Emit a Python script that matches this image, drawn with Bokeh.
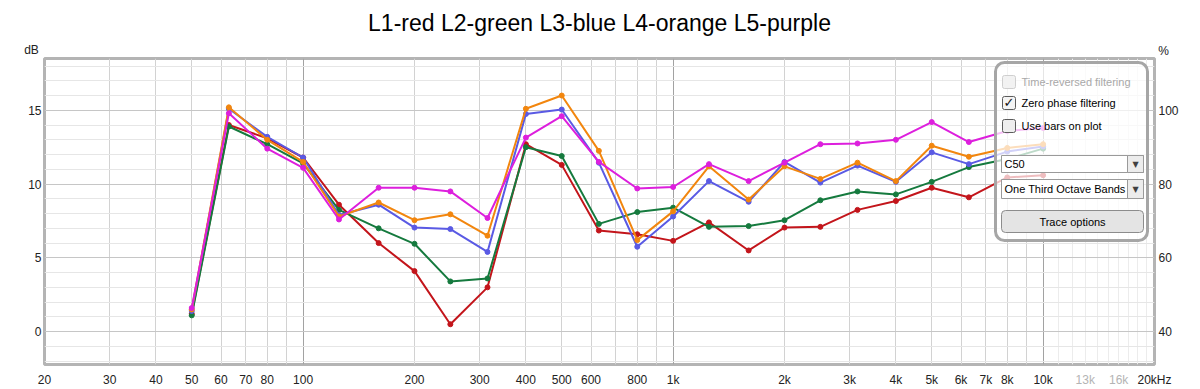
from bokeh.plotting import figure
from bokeh.models import (FixedTicker, Range1d, LinearAxis, LogAxis, Grid, Label, Title,
                          BoxAnnotation, ColumnDataSource)
from bokeh.embed import file_html
from bokeh.resources import INLINE

# ---------------- data ----------------
freqs = [50, 63, 80, 100, 125, 160, 200, 250, 315, 400, 500, 630, 800, 1000,
         1250, 1600, 2000, 2500, 3150, 4000, 5000, 6300, 8000, 10000]
L1_red = [1.2, 14.0, 13.1, 11.8, 8.6, 6.0, 4.1, 0.5, 3.0, 12.7, 11.3, 6.85, 6.6, 6.15,
          7.4, 5.5, 7.05, 7.1, 8.25, 8.85, 9.75, 9.1, 10.45, 10.6]
L2_green = [1.1, 13.9, 12.7, 11.4, 8.25, 7.0, 5.95, 3.4, 3.6, 12.5, 11.9, 7.3, 8.1, 8.4,
            7.1, 7.15, 7.55, 8.9, 9.5, 9.3, 10.15, 11.15, 11.7, 12.4]
L3_blue = [1.4, 15.1, 13.2, 11.8, 7.9, 8.6, 7.05, 6.95, 5.4, 14.75, 15.05, 11.45, 5.75, 7.8,
           10.2, 8.8, 11.5, 10.1, 11.25, 10.15, 12.15, 11.35, 12.2, 12.55]
L4_orange = [1.5, 15.2, 13.0, 11.5, 7.8, 8.75, 7.55, 7.95, 6.5, 15.1, 16.0, 12.25, 6.2, 8.15,
             11.2, 8.95, 11.2, 10.35, 11.45, 10.2, 12.6, 11.85, 12.45, 12.7]
L5_purple = [1.6, 14.8, 12.4, 11.1, 7.6, 9.75, 9.75, 9.5, 7.7, 13.15, 14.6, 11.5, 9.7, 9.8,
             11.35, 10.2, 11.45, 12.7, 12.75, 13.0, 14.2, 12.85, 13.6, 13.8]

series_names = ["L1", "L2", "L3", "L4", "L5"]
series_values = [L1_red, L2_green, L3_blue, L4_orange, L5_purple]
series_colors = ["#c3151b", "#157a3e", "#5a5ae4", "#f2860e", "#dd1fdd"]

x_tick_values = [20, 30, 40, 50, 60, 70, 80, 100, 200, 300, 400, 500, 600, 800,
                 1000, 2000, 3000, 4000, 5000, 6000, 7000, 8000, 10000, 20000]
x_tick_labels = ["20", "30", "40", "50", "60", "70", "80", "100", "200", "300", "400",
                 "500", "600", "800", "1k", "2k", "3k", "4k", "5k", "6k", "7k", "8k",
                 "10k", "20kHz"]
x_faint_ticks = [13000, 16000]
x_faint_labels = ["13k", "16k"]
db_ticks = [0, 5, 10, 15]
pct_ticks = [40, 60, 80, 100]

title_text = "L1-red L2-green L3-blue L4-orange L5-purple"

# ---------------- figure ----------------
W, H = 1200, 389
FONT = "Liberation Sans"
DB_LO, DB_HI = -2.23, 18.51
FL, FR, FT, FB = 44, 1154, 58, 365   # frame edges in page pixels

p = figure(width=W, height=H, x_axis_type="log", title=None,
           x_range=Range1d(20, 20000), y_range=Range1d(DB_LO, DB_HI),
           output_backend="svg", toolbar_location=None,
           min_border_left=FL, min_border_right=W - FR, min_border_top=FT,
           min_border_bottom=H - FB)
p.extra_y_ranges = {"pct": Range1d(40 + 4 * DB_LO, 40 + 4 * DB_HI)}

p.background_fill_color = "white"
p.border_fill_color = "white"
p.outline_line_color = "#b4b4b4"
p.outline_line_width = 3

def style_axis(ax, standoff):
    ax.axis_line_color = None
    ax.major_tick_line_color = None
    ax.minor_tick_line_color = None
    ax.major_tick_out = 0
    ax.major_tick_in = 0
    ax.major_label_standoff = standoff
    ax.major_label_text_font = FONT
    ax.major_label_text_font_size = "12px"
    ax.major_label_text_color = "#222222"

xa = p.xaxis[0]
xa.ticker = FixedTicker(ticks=x_tick_values, minor_ticks=[])
xa.major_label_overrides = {v: l for v, l in zip(x_tick_values, x_tick_labels)}
style_axis(xa, 8)

# faint 13k / 16k labels: second bottom axis pulled up onto the first one's row
xa2 = LogAxis(ticker=FixedTicker(ticks=x_faint_ticks, minor_ticks=[]))
xa2.major_label_overrides = {v: l for v, l in zip(x_faint_ticks, x_faint_labels)}
style_axis(xa2, -17)
xa2.major_label_text_color = "#b4b4b4"
p.add_layout(xa2, "below")

ya = p.yaxis[0]
ya.ticker = FixedTicker(ticks=db_ticks, minor_ticks=[])
style_axis(ya, 3)

ra = LinearAxis(y_range_name="pct", ticker=FixedTicker(ticks=pct_ticks, minor_ticks=[]))
style_axis(ra, 4)
p.add_layout(ra, "right")

# grids
p.xgrid.grid_line_color = None
p.ygrid.grid_line_color = None

x_light = list(range(11000, 20000, 1000))
x_mid = (list(range(30, 100, 10)) + list(range(200, 1000, 100)) +
         list(range(2000, 10000, 1000)))
x_dark = [100, 1000, 10000]
y_light = [v for v in range(-2, 19) if v % 5 != 0]
y_mid = [0, 5, 10, 15]

for ticks, col, dim in [(x_light, "#ececec", 0), (x_mid, "#d2d2d2", 0),
                        (x_dark, "#a2a2a2", 0), (y_light, "#e6e6e6", 1),
                        (y_mid, "#c6c6c6", 1)]:
    p.add_layout(Grid(dimension=dim, ticker=FixedTicker(ticks=ticks),
                      grid_line_color=col, grid_line_width=1))

# data
for name, vals, col in zip(series_names, series_values, series_colors):
    src = ColumnDataSource(dict(f=freqs, v=vals))
    p.line("f", "v", source=src, line_color=col, line_width=2)
    p.scatter("f", "v", source=src, size=5, fill_color=col, line_color=col)

# ---------------- unit labels and title in side panels ----------------
p.add_layout(Label(x=-13, y=9, x_units="screen", y_units="screen", text="dB",
                   text_font=FONT, text_font_size="12px", text_color="#222222",
                   text_align="center", text_baseline="middle"), "above")
p.add_layout(Title(text=title_text, text_font=FONT, text_font_size="23px",
                   text_font_style="normal", text_color="#000000", align="center",
                   vertical_align="top", standoff=14), "above")
p.add_layout(Label(x=-18, y=FB - FT + 7, x_units="screen", y_units="screen", text="%",
                   text_font=FONT, text_font_size="12px", text_color="#222222",
                   text_align="center", text_baseline="middle"), "right")

# ---------------- control panel overlay ----------------
def sx(X):
    return X - FL

def sy(Y):
    return FB - Y

def box(x0, x1, y0, y1, fill, line, lw=1, alpha=1.0, radius=0):
    p.add_layout(BoxAnnotation(left=sx(x0), right=sx(x1), top=sy(y0), bottom=sy(y1),
                               left_units="screen", right_units="screen",
                               top_units="screen", bottom_units="screen",
                               fill_color=fill, fill_alpha=alpha, line_color=line,
                               line_width=lw, line_alpha=1.0, border_radius=radius,
                               level="annotation"))

def txt(X, Y, s, color="#000000", size="11px", align="left", font=FONT, style="normal"):
    p.add_layout(Label(x=sx(X), y=sy(Y), x_units="screen", y_units="screen", text=s,
                       text_font=font, text_font_size=size, text_color=color,
                       text_align=align, text_baseline="middle", text_font_style=style))

box(995, 1147, 63, 241, "white", "#a6a6a6", lw=3, alpha=0.72, radius=9)
box(1002, 1015, 76, 89, "#f2f2f2", "#cfcfcf", radius=2)
txt(1021, 82.5, "Time-reversed filtering", color="#a8a8a8")
box(1002, 1015, 97, 110, "#f4f4f4", "#5c5c5c", radius=2)
txt(1008.5, 103, "\u2713", color="#111111", size="13px", align="center",
    font="DejaVu Sans", style="bold")
txt(1021, 103.5, "Zero phase filtering")
box(1002, 1015, 120, 133, "#eeeeee", "#5c5c5c", radius=2)
txt(1021, 126.5, "Use bars on plot")
box(1001, 1143, 156, 173, "white", "#9a9a9a")
box(1127, 1143, 156, 173, "#ececec", "#9a9a9a")
txt(1135, 165, "\u25BC", color="#404040", size="8px", align="center", font="DejaVu Sans")
txt(1004, 164.5, "C50")
box(1001, 1143, 180, 199, "white", "#9a9a9a")
box(1127, 1143, 180, 199, "#ececec", "#9a9a9a")
txt(1135, 189.5, "\u25BC", color="#404040", size="8px", align="center", font="DejaVu Sans")
txt(1004, 189.5, "One Third Octave Bands")
box(1001, 1143, 211, 233, "#e4e4e4", "#8c8c8c", radius=4)
txt(1072, 222, "Trace options", align="center")

open("out.html", "w").write(file_html(p, INLINE))
